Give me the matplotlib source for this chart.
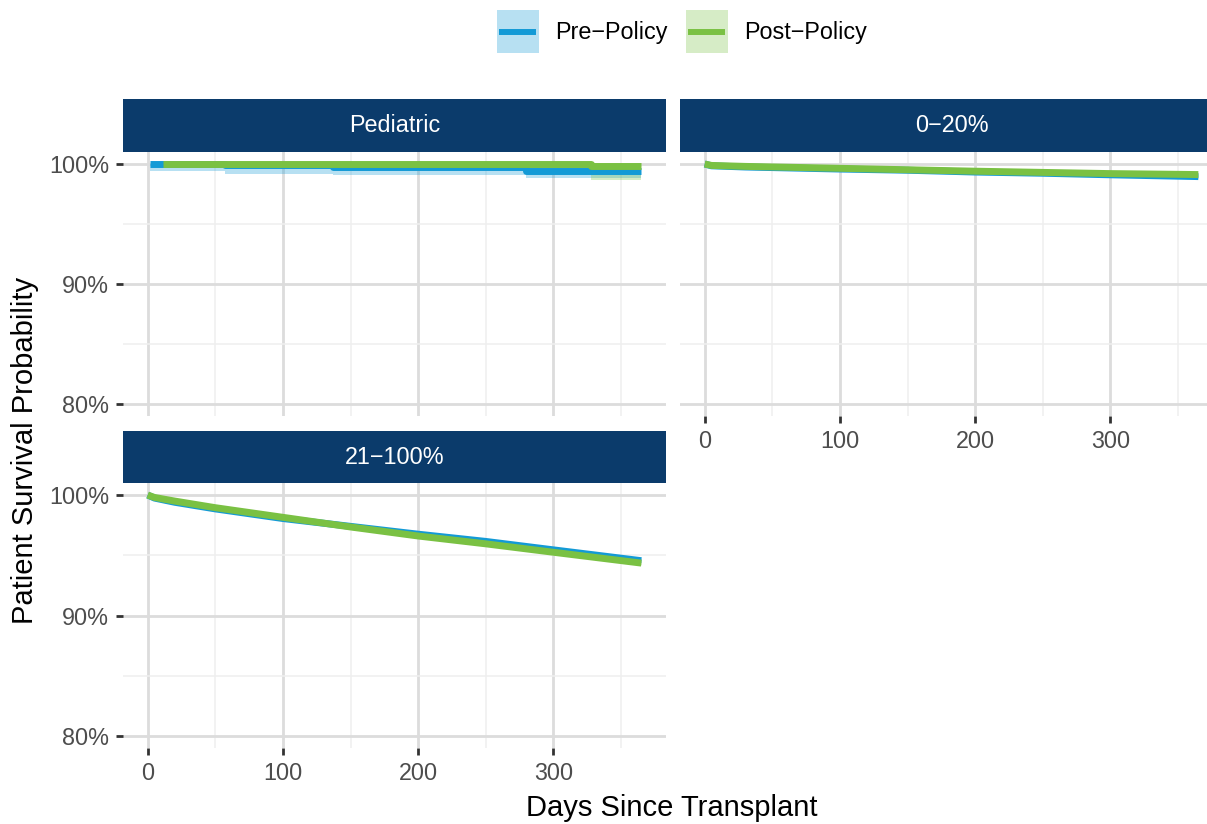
"""
    Patient survival after transplant, pre- vs post-policy, by group
"""
import matplotlib.pyplot as plt
from matplotlib.lines import Line2D
from matplotlib.patches import Rectangle
from matplotlib.ticker import FuncFormatter

plt.rcParams['font.family'] = ['Liberation Sans', 'DejaVu Sans']

# Pediatric (step curves, survival in %)
ped_pre_days = [2, 57, 137, 280, 365]
ped_pre_surv = [100.0, 99.9, 99.72, 99.45, 99.45]
ped_pre_low = [99.4, 99.2, 99.07, 98.8, 98.8]
ped_pre_high = [100.0, 100.0, 100.0, 100.0, 100.0]

ped_post_days = [11, 328, 365]
ped_post_surv = [100.0, 99.83, 99.83]
ped_post_low = [100.0, 98.65, 98.65]
ped_post_high = [100.0, 100.0, 100.0]

# 0-20%
low_days = [0, 5, 30, 100, 150, 200, 250, 300, 365]
low_pre_surv = [100.0, 99.85, 99.75, 99.58, 99.48, 99.33, 99.23, 99.1, 98.95]
low_post_surv = [100.0, 99.88, 99.8, 99.64, 99.52, 99.4, 99.3, 99.2, 99.12]
low_pre_ci = [0.0, 0.03, 0.05, 0.07, 0.08, 0.09, 0.1, 0.11, 0.12]
low_post_ci = [0.0, 0.03, 0.05, 0.07, 0.08, 0.09, 0.1, 0.11, 0.12]

# 21-100%
high_days = [0, 5, 20, 50, 100, 150, 200, 250, 300, 365]
high_pre_surv = [100.0, 99.75, 99.4, 98.85, 98.05, 97.4, 96.75, 96.15, 95.45, 94.55]
high_post_surv = [100.0, 99.8, 99.5, 98.95, 98.15, 97.35, 96.6, 95.95, 95.25, 94.35]
high_ci = [0.0, 0.04, 0.06, 0.08, 0.1, 0.11, 0.12, 0.13, 0.14, 0.15]

group_labels = ['Pre\u2212Policy', 'Post\u2212Policy']
facet_labels = ['Pediatric', '0\u221220%', '21\u2212100%']

BLUE = '#139AD6'
GREEN = '#7AC143'
NAVY = '#0B3B6B'
W, H = 1207, 824


def px_box(x0, y0, x1, y1):
    """pixel box (top-left origin) -> figure fraction rect"""
    return [x0 / W, 1 - y1 / H, (x1 - x0) / W, (y1 - y0) / H]


def style_panel(ax, show_x, show_y):
    ax.set_xlim(-18.25, 383.25)
    ax.set_ylim(79, 101)
    ax.set_xticks([0, 100, 200, 300])
    ax.set_xticks([50, 150, 250, 350], minor=True)
    ax.set_yticks([80, 90, 100])
    ax.set_yticks([85, 95], minor=True)
    ax.yaxis.set_major_formatter(FuncFormatter(lambda v, p: '%d%%' % v))
    ax.grid(which='major', color='#DCDCDC', linewidth=2.0)
    ax.grid(which='minor', color='#EFEFEF', linewidth=1.1)
    ax.set_axisbelow(True)
    for s in ax.spines.values():
        s.set_visible(False)
    ax.tick_params(which='minor', length=0)
    ax.tick_params(which='major', length=5, width=2, color='#333333',
                   labelsize=16.8, labelcolor='#4D4D4D', pad=5)
    ax.tick_params(axis='x', bottom=show_x, labelbottom=show_x)
    ax.tick_params(axis='y', left=show_y, labelleft=show_y)


def add_strip(fig, rect, label):
    sax = fig.add_axes(rect)
    sax.set_facecolor(NAVY)
    sax.set_xticks([])
    sax.set_yticks([])
    for s in sax.spines.values():
        s.set_visible(False)
    sax.text(0.5, 0.5, label, color='white', fontsize=16.8,
             ha='center', va='center', transform=sax.transAxes)


def smooth_panel(ax, days, pre, post, pre_ci, post_ci):
    lo = [s - c for s, c in zip(pre, pre_ci)]
    hi = [min(s + c, 100) for s, c in zip(pre, pre_ci)]
    ax.fill_between(days, lo, hi, color=BLUE, alpha=0.3, linewidth=0)
    ax.plot(days, pre, color=BLUE, linewidth=5, solid_capstyle='butt')
    lo = [s - c for s, c in zip(post, post_ci)]
    hi = [min(s + c, 100) for s, c in zip(post, post_ci)]
    ax.fill_between(days, lo, hi, color=GREEN, alpha=0.3, linewidth=0)
    ax.plot(days, post, color=GREEN, linewidth=5, solid_capstyle='butt')


def legend_key(fig, x0, color, label):
    # 图例：浅色方块 + 粗线 + 文字（像素坐标）
    fig.add_artist(Rectangle((x0 / W, 1 - 53 / H), 42 / W, 43 / H,
                             transform=fig.transFigure, facecolor=color,
                             alpha=0.3, edgecolor='none'))
    fig.add_artist(Line2D([(x0 + 2) / W, (x0 + 39) / W], [1 - 32 / H, 1 - 32 / H],
                          transform=fig.transFigure, color=color, linewidth=4.3,
                          solid_capstyle='butt'))
    fig.text((x0 + 58) / W, 1 - 33 / H, label, fontsize=16.8,
             ha='left', va='center')


def main():
    fig = plt.figure(figsize=(W / 100, H / 100), dpi=100)

    ax_ped = fig.add_axes(px_box(123, 152, 666, 416))
    ax_low = fig.add_axes(px_box(680, 152, 1223, 416))
    ax_high = fig.add_axes(px_box(123, 483, 666, 748))

    add_strip(fig, px_box(123, 99, 666, 152), facet_labels[0])
    add_strip(fig, px_box(680, 99, 1223, 152), facet_labels[1])
    add_strip(fig, px_box(123, 431, 666, 483), facet_labels[2])

    # 儿科：阶梯曲线
    ax_ped.fill_between(ped_pre_days, ped_pre_low, ped_pre_high, step='post',
                        color=BLUE, alpha=0.3, linewidth=0)
    ax_ped.plot(ped_pre_days, ped_pre_surv, drawstyle='steps-post',
                color=BLUE, linewidth=5, solid_capstyle='butt')
    ax_ped.fill_between(ped_post_days, ped_post_low, ped_post_high, step='post',
                        color=GREEN, alpha=0.3, linewidth=0)
    ax_ped.plot(ped_post_days, ped_post_surv, drawstyle='steps-post',
                color=GREEN, linewidth=5, solid_capstyle='butt')

    smooth_panel(ax_low, low_days, low_pre_surv, low_post_surv, low_pre_ci, low_post_ci)
    smooth_panel(ax_high, high_days, high_pre_surv, high_post_surv, high_ci, high_ci)

    style_panel(ax_ped, show_x=False, show_y=True)
    style_panel(ax_low, show_x=True, show_y=False)
    style_panel(ax_high, show_x=True, show_y=True)

    fig.text(672 / W, 1 - 808 / H, 'Days Since Transplant', fontsize=21,
             ha='center', va='center')
    fig.text(25 / W, 1 - 450 / H, 'Patient Survival Probability', fontsize=21,
             ha='center', va='center', rotation=90)

    legend_key(fig, 497, BLUE, group_labels[0])
    legend_key(fig, 686, GREEN, group_labels[1])

    fig.savefig('out.png', dpi=100)


if __name__ == '__main__':
    main()
